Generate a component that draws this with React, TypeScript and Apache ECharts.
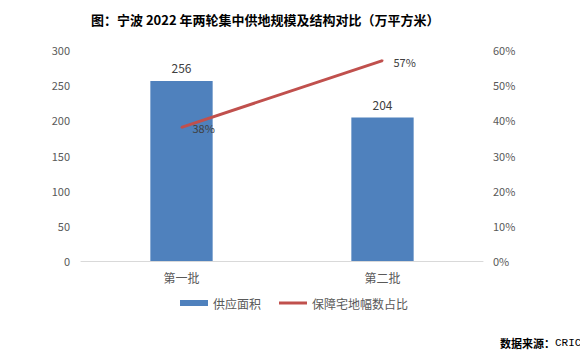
import React, { useEffect, useRef } from "react";
import * as echarts from "echarts";

const categories = ["第一批", "第二批"];
const supplyArea = [256, 204];
const affordableShare = [38, 57];
const leftTicks = [0, 50, 100, 150, 200, 250, 300];
const rightTicks = [0, 10, 20, 30, 40, 50, 60];

const FONT = "'Noto Sans CJK SC', 'Microsoft YaHei', sans-serif";

export default function App() {
  const ref = useRef<HTMLDivElement>(null);
  useEffect(() => {
    const chart = echarts.init(ref.current!, null, { renderer: "svg" });
    chart.setOption({
      animation: false,
      backgroundColor: "#ffffff",
      textStyle: { fontFamily: FONT },
      title: {
        text: "图：宁波 2022 年两轮集中供地规模及结构对比（万平方米）",
        left: 86,
        top: 8,
        textStyle: { fontSize: 13, fontWeight: "bold", color: "#000000", fontFamily: FONT },
      },
      graphic: [
        {
          type: "text",
          left: 500,
          top: 337,
          style: {
            text: "{a|数据来源：}{b|CRIC}",
            rich: {
              a: { fontFamily: FONT, fontSize: 11, fontWeight: "bold", fill: "#000000" },
              b: { fontFamily: "'Liberation Mono', 'DejaVu Sans Mono', monospace", fontSize: 11, fill: "#000000" },
            },
          },
        },
      ],
      legend: {
        bottom: 44,
        left: "center",
        itemGap: 18,
        itemWidth: 28,
        itemHeight: 6,
        textStyle: { fontSize: 12, color: "#595959", fontFamily: FONT },
        data: [
          { name: "供应面积", icon: "rect" },
          { name: "保障宅地幅数占比", icon: "path://M0,0 L28,0 L28,3 L0,3 Z" },
        ],
      },
      grid: { left: 81, right: 105, top: 50, bottom: 97, containLabel: false },
      xAxis: {
        type: "category",
        data: categories,
        axisLine: { lineStyle: { color: "#D9D9D9" } },
        axisTick: { show: false },
        axisLabel: { color: "#595959", fontSize: 12, margin: 10 },
      },
      yAxis: [
        {
          type: "value",
          min: leftTicks[0],
          max: leftTicks[leftTicks.length - 1],
          interval: 50,
          splitLine: { show: false },
          axisLine: { show: false },
          axisTick: { show: false },
          axisLabel: { color: "#595959", fontSize: 11, margin: 11 },
        },
        {
          type: "value",
          min: rightTicks[0],
          max: rightTicks[rightTicks.length - 1],
          interval: 10,
          splitLine: { show: false },
          axisLine: { show: false },
          axisTick: { show: false },
          axisLabel: { color: "#595959", fontSize: 11, margin: 10, formatter: "{value}%" },
        },
      ],
      series: [
        {
          name: "供应面积",
          type: "bar",
          data: supplyArea,
          barWidth: "31%",
          itemStyle: { color: "#4F81BD" },
          label: { show: true, position: "top", distance: 7, color: "#404040", fontSize: 12 },
        },
        {
          name: "保障宅地幅数占比",
          type: "line",
          yAxisIndex: 1,
          data: affordableShare,
          symbol: "circle",
          symbolSize: 2,
          showSymbol: true,
          lineStyle: { color: "#C0504D", width: 3 },
          itemStyle: { color: "#C0504D" },
          label: {
            show: true,
            position: "right",
            distance: 10,
            offset: [0, 1],
            color: "#404040",
            fontSize: 11,
            formatter: "{c}%",
          },
        },
      ],
    });
    return () => chart.dispose();
  }, []);
  return <div ref={ref} style={{ width: 588, height: 358, marginLeft: -8, marginTop: -8 }} />;
}
